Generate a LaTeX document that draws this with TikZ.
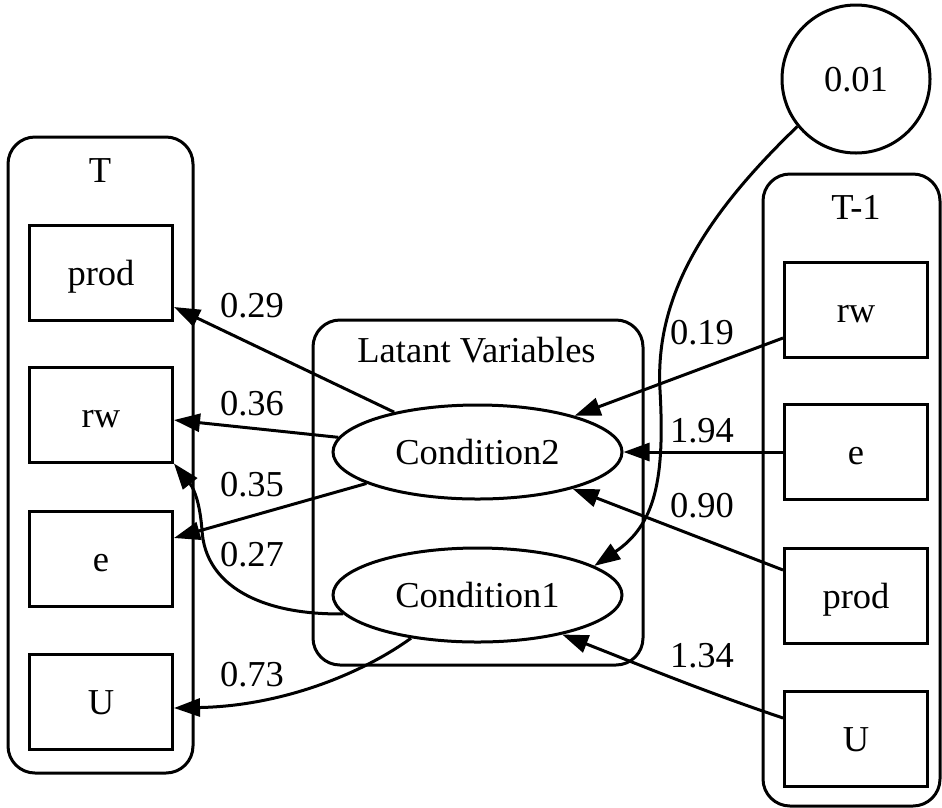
\documentclass[tikz,border=0pt]{standalone}
\usepackage{fontspec}
\setmainfont{Liberation Serif}
\usetikzlibrary{arrows.meta,shapes.geometric}
\begin{document}
\begin{tikzpicture}[x=1pt,y=-1pt,line width=3pt]
\tikzset{
  lbl/.style={font=\fontsize{36.5}{40}\selectfont, text height=33pt, text depth=8pt, inner sep=0pt},
  varbox/.style={lbl, draw, rectangle, minimum width=143pt, minimum height=95pt},
  latent/.style={lbl, draw, ellipse, minimum width=289pt, minimum height=94pt},
  constnode/.style={lbl, draw, circle, minimum size=148pt},
  cluster/.style={draw, rectangle, rounded corners=27pt, inner sep=0pt},
  edge/.style={-{Triangle[length=26pt,width=18pt]}},
}
\useasboundingbox (0,0) rectangle (942,807);
% clusters
\node[cluster, minimum width=185pt, minimum height=636pt] (cT) at (100.5,455) {};
\node[lbl] (cTlabel) at (100,169.5) {T};
\node[cluster, minimum width=330pt, minimum height=345pt] (cL) at (478,492.5) {};
\node[lbl] (cLlabel) at (476.5,350) {Latant Variables};
\node[cluster, minimum width=177pt, minimum height=632pt] (cR) at (851.5,490) {};
\node[lbl] (cRlabel) at (856,206.5) {T-1};
% nodes
\node[varbox] (pT) at (101,272.5) {prod};
\node[varbox] (rwT) at (101,414.5) {rw};
\node[varbox] (eT) at (101,559) {e};
\node[varbox] (UT) at (101,701.5) {U};
\node[varbox] (rwR) at (856,309.5) {rw};
\node[varbox] (eR) at (856,452) {e};
\node[varbox] (prodR) at (856,595.5) {prod};
\node[varbox] (UR) at (856,738.5) {U};
\node[latent] (c2) at (477.5,452) {Condition2};
\node[latent] (c1) at (477.5,595) {Condition1};
\node[constnode] (circ) at (856,79) {0.01};
% edges
\draw[edge] (c2) -- ([yshift=-34.5pt]pT.east);
\draw[edge] (c2) -- ([yshift=-5.5pt]rwT.east);
\draw[edge] (c2) -- ([yshift=21pt]eT.east);
\draw[edge] (c1.188) .. controls (260,615) and (205,585) .. (202,530) .. controls (200,505) and (195,490) .. (rwT.south east);
\draw[edge] (c1.213) .. controls (360,675) and (280,706) .. ([yshift=-6.5pt]UT.east);
\draw[edge] ([yshift=-28.5pt]rwR.west) -- (c2);
\draw[edge] (eR.west) -- (c2.east);
\draw[edge] ([yshift=25.5pt]prodR.west) -- (c2);
\draw[edge] ([yshift=20.5pt]UR.west) .. controls (700,690) and (640,665) .. (c1.-25);
\draw[edge] (circ.219) .. controls (700,220) and (655,300) .. (660,390) .. controls (665,480) and (655,525) .. (c1.14.5);
% edge labels
\node[lbl] (l1) at (252,305) {0.29};
\node[lbl] (l2) at (252,403) {0.36};
\node[lbl] (l3) at (252,484) {0.35};
\node[lbl] (l4) at (252,554) {0.27};
\node[lbl] (l5) at (252,674) {0.73};
\node[lbl] (l6) at (702,332) {0.19};
\node[lbl] (l7) at (702,430) {1.94};
\node[lbl] (l8) at (702,505) {0.90};
\node[lbl] (l9) at (702,655) {1.34};
\end{tikzpicture}
\end{document}
